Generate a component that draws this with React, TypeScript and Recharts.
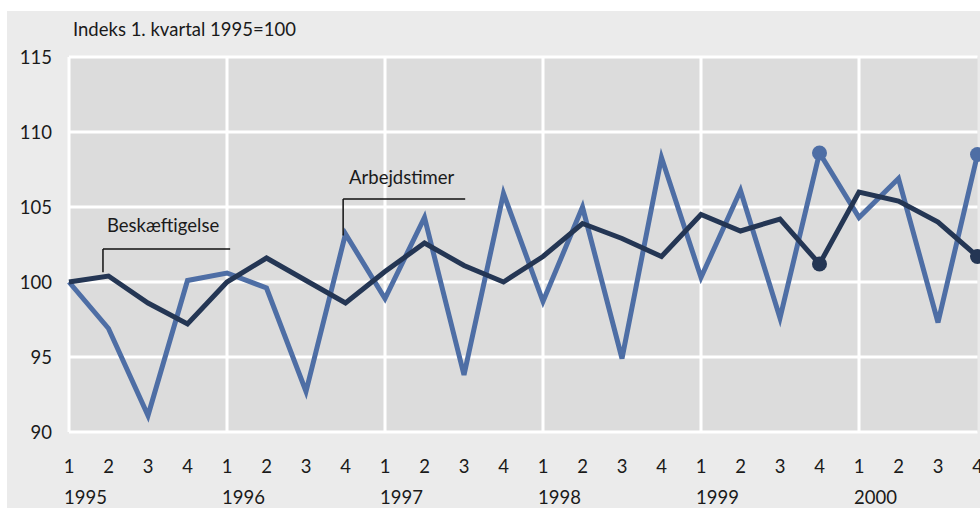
import {
  CartesianGrid,
  Line,
  LineChart,
  ReferenceDot,
  ReferenceLine,
  XAxis,
  YAxis,
} from "recharts";

const YEARS = [1995, 1996, 1997, 1998, 1999, 2000];
const QUARTERS = ["1", "2", "3", "4"];

// Arbejdstimer (light blue, seasonal)
const HOURS = [
  100, 96.9, 91.1, 100.1, 100.6, 99.6, 92.7, 103.2, 98.9, 104.3, 93.8, 105.9,
  98.7, 105.0, 94.9, 108.3, 100.3, 106.1, 97.6, 108.6, 104.3, 106.9, 97.3, 108.5,
];

// Beskæftigelse (dark)
const EMPLOYMENT = [
  100, 100.4, 98.6, 97.2, 100.0, 101.6, 100.1, 98.6, 100.7, 102.6, 101.1, 100.0,
  101.7, 103.9, 102.9, 101.7, 104.5, 103.4, 104.2, 101.2, 106.0, 105.4, 104.0, 101.7,
];

const Y_TICKS = [90, 95, 100, 105, 110, 115];
const MARKED = [19, 23];

const data = HOURS.map((h, i) => ({ i, hours: h, employment: EMPLOYMENT[i] }));

const FONT = "Lato, 'Noto Sans', sans-serif";
const TEXT = "#1a1a1a";
const LIGHT = "#4e6ea5";
const DARK = "#243654";

function QuarterTick(props: any) {
  const { x, y, payload } = props;
  const idx = payload.value as number;
  const q = QUARTERS[idx % 4];
  const year = YEARS[Math.floor(idx / 4)];
  return (
    <g>
      <text x={x} y={y + 33} textAnchor="middle" fontSize={18.5} fill={TEXT} fontFamily={FONT}>
        {q}
      </text>
      {idx % 4 === 0 && (
        <text x={x - 5} y={y + 64} textAnchor="start" fontSize={18.5} fill={TEXT} fontFamily={FONT}>
          {year}
        </text>
      )}
    </g>
  );
}

function makeDot(color: string) {
  return (props: any) => {
    const { cx, cy, index } = props;
    if (!MARKED.includes(index)) return <g key={index} />;
    return <circle key={index} cx={cx} cy={cy} r={7.5} fill={color} />;
  };
}

function labelShape(text: string) {
  return (p: any) => (
    <text x={p.cx} y={p.cy} dy={6} fontSize={18.5} fill={TEXT} fontFamily={FONT}>
      {text}
    </text>
  );
}

export default function App() {
  return (
    <div style={{ position: "absolute", left: 0, top: 0, width: 980, height: 511, background: "#fff" }}>
      <div
        style={{
          position: "absolute",
          left: 7,
          top: 11,
          width: 973,
          height: 497,
          background: "#ebebeb",
        }}
      />
      <div
        style={{
          position: "absolute",
          left: 73,
          top: 18,
          fontFamily: FONT,
          fontSize: 18.5,
          color: TEXT,
          whiteSpace: "nowrap",
        }}
      >
        Indeks 1. kvartal 1995=100
      </div>
      <div style={{ position: "absolute", left: 0, top: 0 }}>
        <LineChart
          width={980}
          height={511}
          data={data}
          margin={{ top: 57, right: 2.5, bottom: 0, left: 0 }}
        >
          <CartesianGrid
            vertical={false}
            fill="#dcdcdc"
            stroke="#ffffff"
            strokeWidth={3}
          />
          {[0, 4, 8, 12, 16, 20].map((x) => (
            <ReferenceLine key={x} x={x} stroke="#ffffff" strokeWidth={3} />
          ))}
          <XAxis
            dataKey="i"
            type="number"
            domain={[0, 23]}
            ticks={data.map((d) => d.i)}
            interval={0}
            axisLine={false}
            tickLine={false}
            height={79}
            tick={<QuarterTick />}
          />
          <YAxis
            domain={[90, 115]}
            ticks={Y_TICKS}
            width={69}
            axisLine={false}
            tickLine={false}
            tickMargin={11}
            tick={{ fontSize: 18.5, fill: TEXT, fontFamily: FONT }}
          />
          <Line
            dataKey="hours"
            stroke={LIGHT}
            strokeWidth={5}
            dot={makeDot(LIGHT)}
            activeDot={false}
            isAnimationActive={false}
          />
          <Line
            dataKey="employment"
            stroke={DARK}
            strokeWidth={5}
            dot={makeDot(DARK)}
            activeDot={false}
            isAnimationActive={false}
          />
          <ReferenceLine
            segment={[
              { x: 0.86, y: 100.65 },
              { x: 0.86, y: 102.2 },
            ]}
            stroke="#111"
            strokeWidth={1.5}
          />
          <ReferenceLine
            segment={[
              { x: 0.86, y: 102.2 },
              { x: 4.08, y: 102.2 },
            ]}
            stroke="#111"
            strokeWidth={1.5}
          />
          <ReferenceLine
            segment={[
              { x: 6.94, y: 103.1 },
              { x: 6.94, y: 105.53 },
            ]}
            stroke="#111"
            strokeWidth={1.5}
          />
          <ReferenceLine
            segment={[
              { x: 6.94, y: 105.53 },
              { x: 10.03, y: 105.53 },
            ]}
            stroke="#111"
            strokeWidth={1.5}
          />
          <ReferenceDot x={0.96} y={103.73} r={0} shape={labelShape("Beskæftigelse")} />
          <ReferenceDot x={7.09} y={106.93} r={0} shape={labelShape("Arbejdstimer")} />
        </LineChart>
      </div>
    </div>
  );
}
